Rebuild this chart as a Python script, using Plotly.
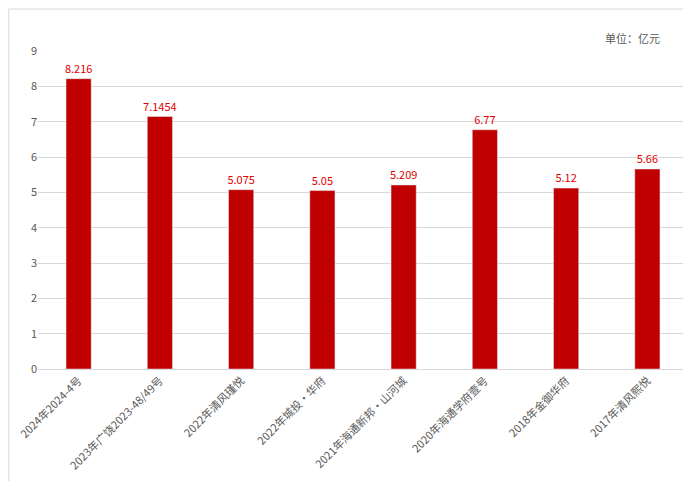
import plotly.graph_objects as go

categories = ["2024年2024-4号", "2023年广饶2023-48/49号", "2022年清风瑾悦", "2022年城投·华府",
              "2021年海通新邦·山河城", "2020年海通学府壹号", "2018年金御华府", "2017年清风熙悦"]
values = [8.216, 7.1454, 5.075, 5.05, 5.209, 6.77, 5.12, 5.66]
labels = ["8.216", "7.1454", "5.075", "5.05", "5.209", "6.77", "5.12", "5.66"]

fig = go.Figure(go.Bar(
    x=categories, y=values, text=labels, textposition="outside",
    textfont=dict(color="#e00000", size=11), marker_color="#c00000",
    cliponaxis=False, constraintext="none",
))
fig.update_layout(
    width=691, height=481, margin=dict(l=30, r=11, t=43, b=120, autoexpand=False),
    paper_bgcolor="white", plot_bgcolor="white", bargap=0.69, showlegend=False,
    font=dict(family="Noto Sans CJK SC, sans-serif", color="#595959", size=11),
    xaxis=dict(tickangle=-45, showline=True, linecolor="#d9d9d9", ticks="", automargin=False),
    yaxis=dict(range=[0, 9], dtick=1, gridcolor="#d9d9d9", zeroline=False, ticks="", automargin=False),
    annotations=[dict(text="单位：亿元", xref="paper", yref="paper", x=0.96, y=1.072,
                      showarrow=False, xanchor="right", font=dict(size=11, color="#595959"))],
    shapes=[dict(type="rect", xref="paper", yref="paper", x0=-0.045, y0=-0.374, x1=1.015, y1=1.132,
                 line=dict(color="#d9d9d9", width=1))],
)
fig.write_html("out.html")
